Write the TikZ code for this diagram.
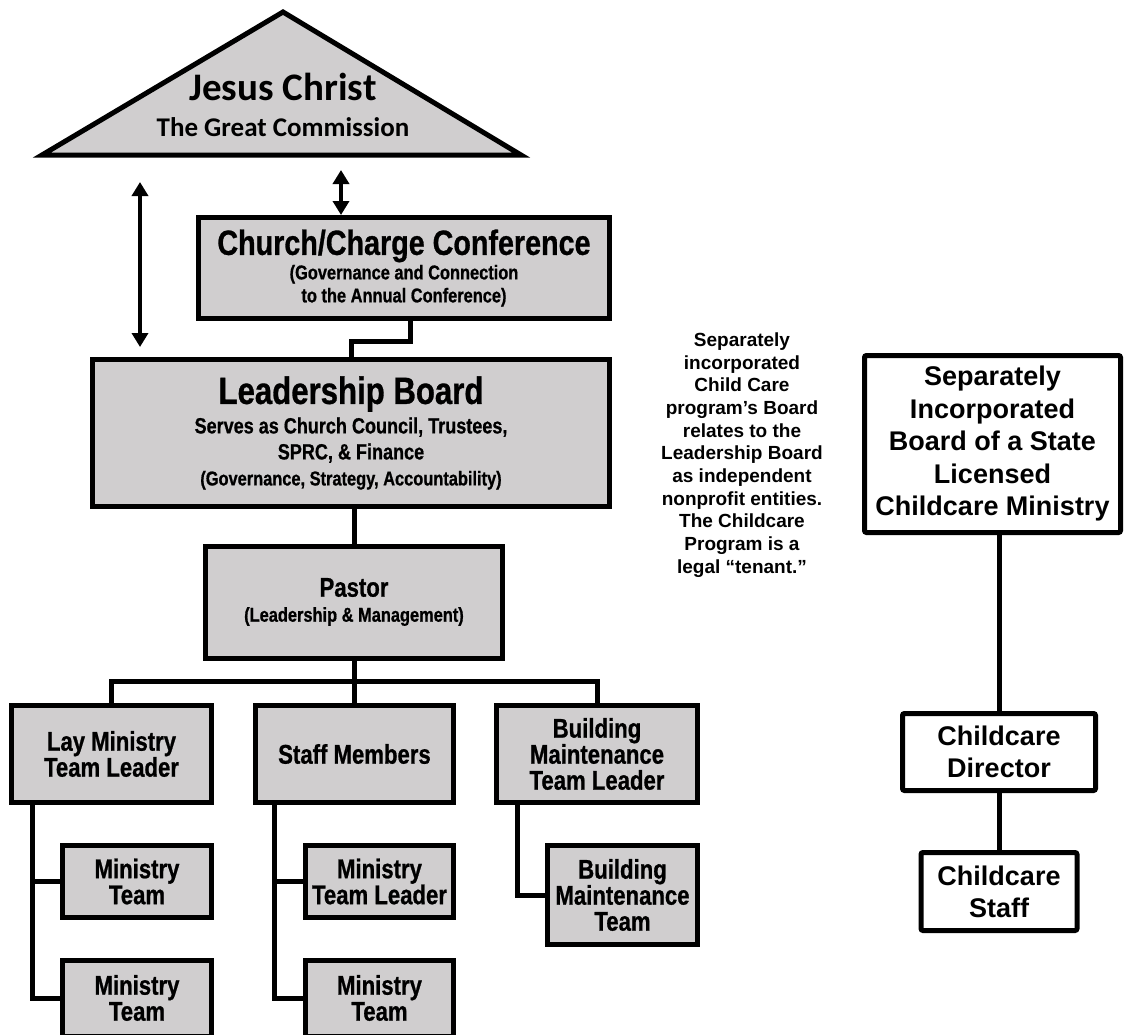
\documentclass[tikz,border=0pt]{standalone}
\usepackage{fontspec}
\setmainfont{Liberation Sans}
\newfontfamily\narrowfont[FakeStretch=0.82, FakeBold=0.8]{Liberation Sans}
\newfontfamily\calfont{Carlito}
\usetikzlibrary{arrows.meta}
\definecolor{boxgray}{RGB}{208,206,207}
\newcommand{\fs}[2]{\fontsize{#1}{#2}\selectfont}
\tikzset{
  graybox/.style={draw, line width=5pt, fill=boxgray, inner sep=0pt, align=center, font=\narrowfont\bfseries\fs{27}{26}},
  whitebox/.style={draw, line width=5pt, fill=white, rounded corners=2pt, inner sep=0pt, align=center, font=\bfseries\fs{27}{32.5}},
  link/.style={line width=5pt},
  dblarrow/.style={line width=4pt, {Triangle[width=16pt,length=14pt]}-{Triangle[width=16pt,length=14pt]}}
}
\begin{document}
\begin{tikzpicture}[x=1pt,y=-1pt]
  \useasboundingbox (0,0) rectangle (1125,1034);

  % the roof
  \draw[line width=5pt, fill=boxgray, line join=miter] (283,12) -- (521,155) -- (42,155) -- cycle;
  \node[align=center, font=\calfont\bfseries\fs{27}{28}] (jesus) at (283,105)
    {{\fs{39}{40}Jesus Christ}\\[8pt]The Great Commission};

  % church side
  \node[graybox, font=\narrowfont\bfseries\fs{20}{23}, minimum width=411pt, minimum height=101pt] (church) at (404,268)
    {{\fs{35}{36}Church/Charge Conference}\\[1.5pt](Governance and Connection\\to the Annual Conference)};
  \node[graybox, font=\narrowfont\bfseries\fs{22}{26}, minimum width=517pt, minimum height=147pt] (lead) at (351,433)
    {{\fs{38}{36}Leadership Board}\\[3.5pt]Serves as Church Council, Trustees,\\SPRC, \& Finance\\{\fs{20}{26}(Governance, Strategy, Accountability)}};
  \node[graybox, font=\narrowfont\bfseries\fs{20}{28}, minimum width=297pt, minimum height=112pt] (pastor) at (354,602)
    {{\fs{27}{28}Pastor}\\[-3pt](Leadership \& Management)};

  \node[graybox, minimum width=200pt, minimum height=97pt] (lay) at (111.5,754) {Lay Ministry\\Team Leader};
  \node[graybox, minimum width=198pt, minimum height=97pt] (staff) at (354.5,754) {Staff Members};
  \node[graybox, minimum width=201pt, minimum height=97pt] (bldg) at (597,754) {Building\\Maintenance\\Team Leader};

  \node[graybox, minimum width=149pt, minimum height=72pt] (mt1) at (137,881.5) {Ministry\\Team};
  \node[graybox, minimum width=149pt, minimum height=76pt] (mt2) at (137,998) {Ministry\\Team};
  \node[graybox, minimum width=148pt, minimum height=72pt] (mtl) at (379.5,881.5) {Ministry\\Team Leader};
  \node[graybox, minimum width=148pt, minimum height=76pt] (smt) at (379.5,998) {Ministry\\Team};
  \node[graybox, minimum width=150pt, minimum height=99pt] (bmt) at (622.5,895) {Building\\Maintenance\\Team};

  % childcare side
  \node[align=center, font=\bfseries\fs{19}{22.7}] (note) at (742,455)
    {Separately\\incorporated\\Child Care\\program’s Board\\relates to the\\Leadership Board\\as independent\\nonprofit entities.\\The Childcare\\Program is a\\legal “tenant.”};
  \node[whitebox, minimum width=256pt, minimum height=177pt] (board) at (992.5,444)
    {Separately\\Incorporated\\Board of a State\\Licensed\\Childcare Ministry};
  \node[whitebox, font=\bfseries\fs{27}{32}, minimum width=193pt, minimum height=77pt] (director) at (999,752) {Childcare\\Director};
  \node[whitebox, font=\bfseries\fs{27}{32}, minimum width=156pt, minimum height=78pt] (ccstaff) at (999,891.5) {Childcare\\Staff};

  % arrows
  \coordinate (a1) at (140,182);
  \coordinate (a2) at (140,347);
  \coordinate (a3) at (341,170);
  \draw[dblarrow] (a1) -- (a2);
  \draw[dblarrow] (a3) -- (a3 |- church.north);

  % lines
  \draw[link] ([xshift=6pt]church.south) -- ++(0,20) -| (lead.north);
  \draw[link] (pastor.north |- lead.south) -- (pastor.north);
  \draw[link] (pastor.south) -- (pastor.south |- staff.north);
  \draw[link] (lay.north) -- ++(0,-22) -| (bldg.north);
  \draw[link] ([xshift=-79.5pt]lay.south) |- (mt1.west);
  \draw[link] ([xshift=-79.5pt]lay.south) |- (mt2.west);
  \draw[link] ([xshift=-80.5pt]staff.south) |- (mtl.west);
  \draw[link] ([xshift=-80.5pt]staff.south) |- (smt.west);
  \draw[link] ([xshift=-80pt]bldg.south) |- (bmt.west);
  \draw[link] (director.north |- board.south) -- (director.north);
  \draw[link] (director.south) -- (ccstaff.north);
\end{tikzpicture}
\end{document}
